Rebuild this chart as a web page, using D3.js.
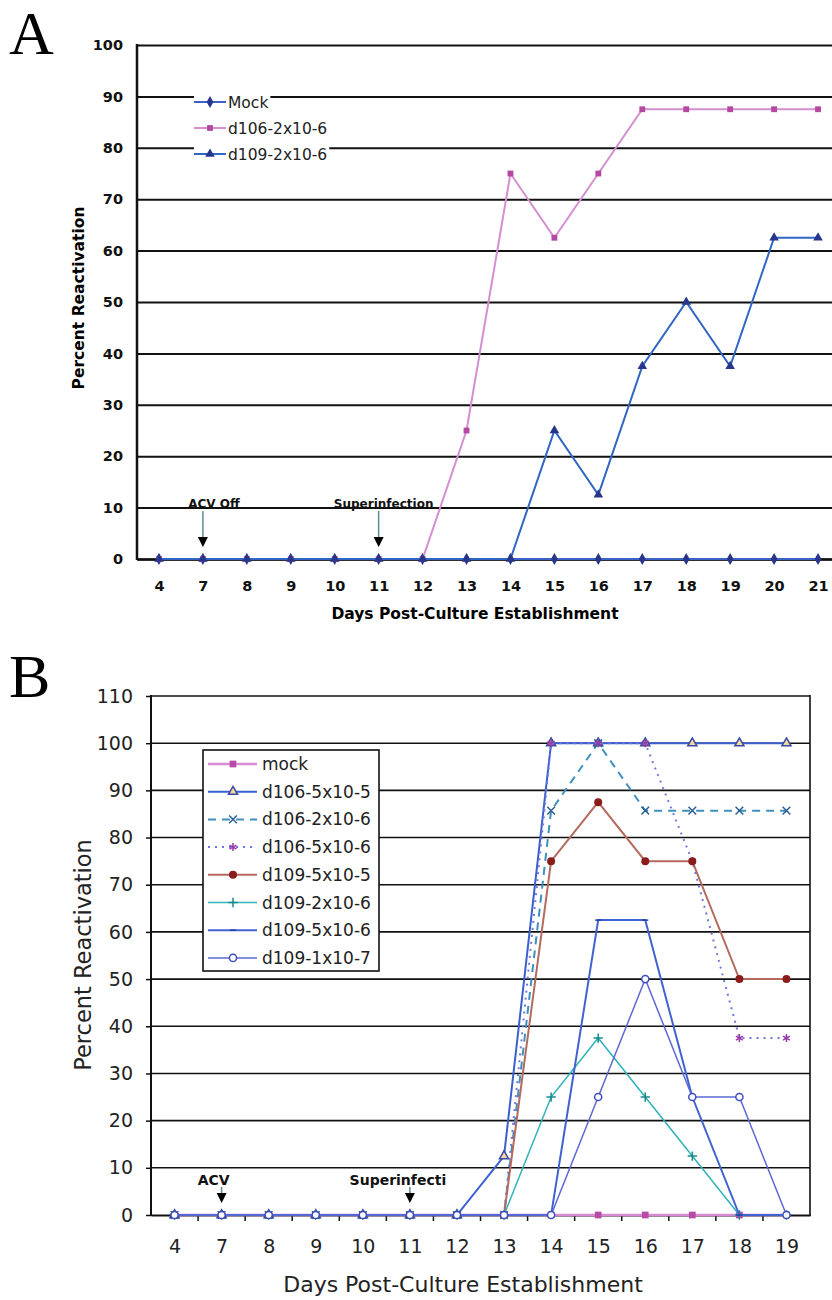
<!DOCTYPE html>
<html>
<head>
<meta charset="utf-8">
<script src="https://cdn.jsdelivr.net/npm/d3@7"></script>
<style>
  body { margin: 0; background: #fff; }
  svg { display: block; }
</style>
</head>
<body>
<svg width="832" height="1300"></svg>
<script>
// ---- data, panel A
const daysA = ['4','7','8','9','10','11','12','13','14','15','16','17','18','19','20','21'];
const mockA = [0,0,0,0,0,0,0,0,0,0,0,0,0,0,0,0];
const d106A = [0,0,0,0,0,0,0,25,75,62.5,75,87.5,87.5,87.5,87.5,87.5];
const d109A = [0,0,0,0,0,0,0,0,0,25,12.5,37.5,50,37.5,62.5,62.5];
const ticksA = [0,10,20,30,40,50,60,70,80,90,100];

// ---- data, panel B
const daysB = ['4','7','8','9','10','11','12','13','14','15','16','17','18','19'];
const mockB     = [0,0,0,0,0,0,0,0,0,0,0,0,0,0];
const d106_5e5B = [0,0,0,0,0,0,0,12.5,100,100,100,100,100,100];
const d106_2e6B = [0,0,0,0,0,0,0,0,85.7,100,85.7,85.7,85.7,85.7];
const d106_5e6B = [0,0,0,0,0,0,0,0,100,100,100,75,37.5,37.5];
const d109_5e5B = [0,0,0,0,0,0,0,0,75,87.5,75,75,50,50];
const d109_2e6B = [0,0,0,0,0,0,0,0,25,37.5,25,12.5,0,0];
const d109_5e6B = [0,0,0,0,0,0,0,0,0,62.5,62.5,25,0,0];
const d109_1e7B = [0,0,0,0,0,0,0,0,0,25,50,25,25,0];
const ticksB = [0,10,20,30,40,50,60,70,80,90,100,110];

const svg = d3.select('svg');

// little horizontal dash marker (d109-5x10-6)
const symbolDash = {draw(ctx, size) { const r = Math.sqrt(size) / 2; ctx.moveTo(-r, 0); ctx.lineTo(r, 0); }};

const seriesA = [
  {name: 'Mock',        values: mockA, line: '#3b62c9', width: 2, sym: d3.symbolDiamond,  size: 40, fill: '#28358c', stroke: 'none'},
  {name: 'd106-2x10-6', values: d106A, line: '#d48ed1', width: 2, sym: d3.symbolSquare,   size: 34, fill: '#b5489f', stroke: 'none'},
  {name: 'd109-2x10-6', values: d109A, line: '#2f66c4', width: 2, sym: d3.symbolTriangle, size: 40, fill: '#26368a', stroke: 'none'}
];

const seriesB = [
  {name: 'mock',        values: mockB,     line: '#d88ad2', width: 2.5, sym: d3.symbolSquare,   size: 45, fill: '#b84aa8', stroke: 'none'},
  {name: 'd106-5x10-5', values: d106_5e5B, line: '#3a5fcf', width: 2,   sym: d3.symbolTriangle, size: 36, fill: '#f3d7a0', stroke: '#3a4aa0'},
  {name: 'd106-2x10-6', values: d106_2e6B, line: '#3f8fbf', width: 2,   dash: '8,6', sym: d3.symbolTimes, size: 40, fill: 'none', stroke: '#2a5f95'},
  {name: 'd106-5x10-6', values: d106_5e6B, line: '#6d78e0', width: 2,   dash: '2,5', sym: d3.symbolAsterisk, size: 45, fill: 'none', stroke: '#9a3aa8'},
  {name: 'd109-5x10-5', values: d109_5e5B, line: '#b46a5e', width: 2,   sym: d3.symbolCircle,   size: 50, fill: '#8a1c1c', stroke: 'none'},
  {name: 'd109-2x10-6', values: d109_2e6B, line: '#2db3b8', width: 1.5, sym: d3.symbolPlus,     size: 30, fill: 'none', stroke: '#17898c'},
  {name: 'd109-5x10-6', values: d109_5e6B, line: '#4262d2', width: 2,   sym: symbolDash,        size: 36, fill: 'none', stroke: '#1f3fa8'},
  {name: 'd109-1x10-7', values: d109_1e7B, line: '#5b69d2', width: 1.5, sym: d3.symbolCircle,   size: 40, fill: '#fff', stroke: '#3a4ec0'}
];

function drawSeries(g, list, days, x, y) {
  list.forEach(s => {
    const pts = days.map((d, i) => ({d: d, v: s.values[i]}));
    const line = d3.line().x(p => x(p.d)).y(p => y(p.v));
    g.append('path')
      .attr('d', line(pts))
      .attr('fill', 'none')
      .attr('stroke', s.line)
      .attr('stroke-width', s.width)
      .attr('stroke-dasharray', s.dash || null);
    g.selectAll(null)
      .data(pts)
      .enter().append('path')
        .attr('transform', p => `translate(${x(p.d)},${y(p.v)})`)
        .attr('d', d3.symbol().type(s.sym).size(s.size))
        .attr('fill', s.fill)
        .attr('stroke', s.stroke)
        .attr('stroke-width', 1.5);
  });
}

function arrow(g, x, yText, y0, y1, label, font, size, weight, dxText) {
  g.append('text')
    .attr('x', x + dxText).attr('y', yText)
    .attr('text-anchor', 'middle')
    .attr('font-family', font).attr('font-size', size).attr('font-weight', weight)
    .attr('fill', '#111')
    .text(label);
  g.append('line')
    .attr('x1', x).attr('x2', x).attr('y1', y0).attr('y2', y1 - 9)
    .attr('stroke', '#5f8a90').attr('stroke-width', 1.5);
  g.append('path')
    .attr('d', `M${x - 5},${y1 - 10}L${x + 5},${y1 - 10}L${x},${y1}Z`)
    .attr('fill', '#000');
}

// ================= panel A =================
const A = {left: 137, right: 840, top: 45, bottom: 559};
const xA = d3.scalePoint().domain(daysA).range([A.left, A.right]).padding(0.5);
const yA = d3.scaleLinear().domain([0, 100]).range([A.bottom, A.top]);
const gA = svg.append('g');
const fontA = 'DejaVu Sans, Verdana, sans-serif';

svg.append('text')
  .attr('x', 9).attr('y', 54)
  .attr('font-family', 'Liberation Serif, serif').attr('font-size', 62)
  .text('A');

gA.append('g')
  .attr('transform', `translate(${A.left},0)`)
  .call(d3.axisLeft(yA).tickValues(ticksA).tickSize(-(A.right - A.left)).tickPadding(14))
  .call(g => g.select('.domain').remove())
  .call(g => g.selectAll('.tick line').attr('stroke', '#111').attr('stroke-width', 2))
  .call(g => g.selectAll('.tick text').attr('font-family', fontA).attr('font-size', 14.5)
    .attr('font-weight', 'bold').attr('fill', '#111'));

gA.append('line')
  .attr('x1', A.left).attr('x2', A.left).attr('y1', A.top - 1).attr('y2', A.bottom + 1)
  .attr('stroke', '#111').attr('stroke-width', 2.5);

gA.append('g')
  .attr('transform', `translate(0,${A.bottom})`)
  .call(d3.axisBottom(xA).tickSize(0).tickPadding(22))
  .call(g => g.select('.domain').attr('stroke', '#111').attr('stroke-width', 2.5))
  .call(g => g.selectAll('.tick text').attr('font-family', fontA).attr('font-size', 14.5)
    .attr('font-weight', 'bold').attr('fill', '#111'));

gA.append('text')
  .attr('x', 475).attr('y', 619)
  .attr('text-anchor', 'middle')
  .attr('font-family', fontA).attr('font-size', 15.5).attr('font-weight', 'bold')
  .text('Days Post-Culture Establishment');

gA.append('text')
  .attr('transform', 'translate(84,298) rotate(-90)')
  .attr('text-anchor', 'middle')
  .attr('font-family', fontA).attr('font-size', 15.5).attr('font-weight', 'bold')
  .text('Percent Reactivation');

arrow(gA, xA('7'), 508, 511, 547, 'ACV Off', fontA, 12, 'bold', 11);
arrow(gA, xA('11'), 508, 511, 547, 'Superinfection', fontA, 12, 'bold', 5);

drawSeries(gA, seriesA, daysA, xA, yA);

// legend A (no frame, white behind each entry)
const legA = gA.append('g').attr('transform', 'translate(194,102)');
seriesA.forEach((s, i) => {
  const row = legA.append('g').attr('transform', `translate(0,${i * 26})`);
  const t = row.append('text')
    .attr('x', 34).attr('y', 5.5)
    .attr('font-family', fontA).attr('font-size', 15.5).attr('fill', '#222')
    .text(s.name);
  const w = t.node().getComputedTextLength();
  row.insert('rect', 'text')
    .attr('x', 0).attr('y', -9).attr('width', 36 + w).attr('height', 18).attr('fill', '#fff');
  row.append('line').attr('x1', 0).attr('x2', 32).attr('y1', 0).attr('y2', 0)
    .attr('stroke', s.line).attr('stroke-width', 2);
  row.append('path').attr('transform', 'translate(16,0)')
    .attr('d', d3.symbol().type(s.sym).size(s.size)).attr('fill', s.fill);
});

// ================= panel B =================
const B = {left: 151, right: 810, top: 696, bottom: 1215};
const xB = d3.scalePoint().domain(daysB).range([B.left, B.right]).padding(0.5);
const xBand = d3.scaleBand().domain(daysB).range([B.left, B.right]);
const yB = d3.scaleLinear().domain([0, 110]).range([B.bottom, B.top]);
const gB = svg.append('g');
const fontB = 'DejaVu Sans, Verdana, sans-serif';

svg.append('text')
  .attr('x', 9).attr('y', 697)
  .attr('font-family', 'Liberation Serif, serif').attr('font-size', 62)
  .text('B');

// gridlines
gB.append('g')
  .selectAll('line')
  .data(ticksB.slice(1))
  .enter().append('line')
    .attr('x1', B.left).attr('x2', B.right)
    .attr('y1', d => yB(d)).attr('y2', d => yB(d))
    .attr('stroke', '#111').attr('stroke-width', 1.6);

gB.append('g')
  .attr('transform', `translate(${B.left},0)`)
  .call(d3.axisLeft(yB).tickValues(ticksB).tickSize(5).tickPadding(13))
  .call(g => g.select('.domain').remove())
  .call(g => g.selectAll('.tick line').attr('stroke', '#111').attr('stroke-width', 1.5))
  .call(g => g.selectAll('.tick text').attr('font-family', fontB).attr('font-size', 19).attr('fill', '#222'));

gB.append('line')
  .attr('x1', B.left).attr('x2', B.left).attr('y1', B.top - 1).attr('y2', B.bottom + 1)
  .attr('stroke', '#111').attr('stroke-width', 2);
gB.append('line')
  .attr('x1', B.right).attr('x2', B.right).attr('y1', B.top - 1).attr('y2', B.bottom + 1)
  .attr('stroke', '#111').attr('stroke-width', 1.6);

gB.append('g')
  .attr('transform', `translate(0,${B.bottom})`)
  .call(d3.axisBottom(xB).tickSize(0).tickPadding(24.5))
  .call(g => g.select('.domain').attr('stroke', '#111').attr('stroke-width', 2))
  .call(g => g.selectAll('.tick text').attr('font-family', fontB).attr('font-size', 19).attr('fill', '#222'));

// x ticks between the days
gB.append('g')
  .selectAll('line')
  .data(daysB.slice(1))
  .enter().append('line')
    .attr('x1', d => xBand(d)).attr('x2', d => xBand(d))
    .attr('y1', B.bottom).attr('y2', B.bottom + 6)
    .attr('stroke', '#111').attr('stroke-width', 1.5);

gB.append('text')
  .attr('x', 463).attr('y', 1292)
  .attr('text-anchor', 'middle')
  .attr('font-family', fontB).attr('font-size', 22).attr('fill', '#222')
  .text('Days Post-Culture Establishment');

gB.append('text')
  .attr('transform', 'translate(91,955) rotate(-90)')
  .attr('text-anchor', 'middle')
  .attr('font-family', fontB).attr('font-size', 22.5).attr('fill', '#222')
  .text('Percent Reactivation');

arrow(gB, xB('7'), 1185, 1187, 1203, 'ACV', fontB, 14, 'bold', -8);
arrow(gB, xB('11'), 1185, 1187, 1203, 'Superinfecti', fontB, 14, 'bold', -12);

drawSeries(gB, seriesB, daysB, xB, yB);

// legend B
const legB = gB.append('g').attr('transform', 'translate(203,750)');
legB.append('rect')
  .attr('width', 176).attr('height', 221)
  .attr('fill', '#fff').attr('stroke', '#111').attr('stroke-width', 1.6);
seriesB.forEach((s, i) => {
  const row = legB.append('g').attr('transform', `translate(0,${14 + i * 27.7})`);
  row.append('line').attr('x1', 5).attr('x2', 54).attr('y1', 0).attr('y2', 0)
    .attr('stroke', s.line).attr('stroke-width', s.width).attr('stroke-dasharray', s.dash || null);
  row.append('path').attr('transform', 'translate(30,0)')
    .attr('d', d3.symbol().type(s.sym).size(s.size))
    .attr('fill', s.fill).attr('stroke', s.stroke).attr('stroke-width', 1.5);
  row.append('text')
    .attr('x', 59).attr('y', 6)
    .attr('font-family', fontB).attr('font-size', 17).attr('fill', '#222')
    .text(s.name);
});
</script>
</body>
</html>
